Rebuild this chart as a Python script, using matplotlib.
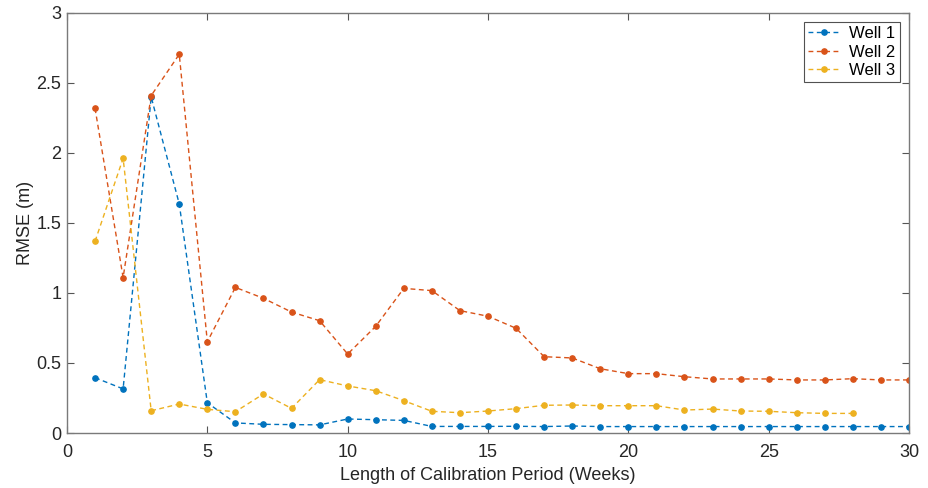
import matplotlib
matplotlib.use("Agg")
import matplotlib.pyplot as plt

weeks = list(range(1, 31))
well1 = [0.395, 0.315, 2.40, 1.636, 0.216, 0.072, 0.062, 0.060, 0.058, 0.100,
         0.095, 0.090, 0.047, 0.047, 0.047, 0.048, 0.046, 0.050, 0.046, 0.046,
         0.046, 0.046, 0.046, 0.046, 0.046, 0.046, 0.046, 0.046, 0.046, 0.046]
well2 = [2.319, 1.11, 2.41, 2.705, 0.652, 1.04, 0.962, 0.864, 0.802, 0.564,
         0.762, 1.033, 1.017, 0.874, 0.834, 0.748, 0.545, 0.536, 0.459, 0.424,
         0.424, 0.402, 0.386, 0.386, 0.386, 0.379, 0.379, 0.388, 0.379, 0.379]
weeks3 = list(range(1, 29))
well3 = [1.369, 1.962, 0.159, 0.207, 0.169, 0.152, 0.279, 0.176, 0.381, 0.336,
         0.302, 0.231, 0.155, 0.145, 0.157, 0.174, 0.198, 0.200, 0.195, 0.195,
         0.195, 0.164, 0.171, 0.157, 0.155, 0.145, 0.140, 0.140]

series = [("Well 1", weeks, well1, "#0072BD"),
          ("Well 2", weeks, well2, "#D95319"),
          ("Well 3", weeks3, well3, "#EDB120")]

plt.rcParams['font.family'] = ['Liberation Sans', 'DejaVu Sans']

fig = plt.figure(figsize=(9.29, 4.88), dpi=100)
ax = fig.add_axes([0.0721, 0.1127, 0.9064, 0.8607])

for name, x, y, c in series:
    ax.plot(x, y, linestyle=(0, (3.5, 2.5)), color=c, linewidth=1.0,
            marker='o', markersize=3.8, markerfacecolor=c, markeredgecolor=c,
            label=name)

ax.set_xlim(0, 30)
ax.set_ylim(0, 3)
ax.set_xticks([0, 5, 10, 15, 20, 25, 30])
ax.set_yticks([0, 0.5, 1, 1.5, 2, 2.5, 3])
ax.set_yticklabels(["0", "0.5", "1", "1.5", "2", "2.5", "3"])
ax.set_xlabel("Length of Calibration Period (Weeks)", fontsize=13, color='#262626', labelpad=4)
ax.set_ylabel("RMSE (m)", fontsize=13, color='#262626', labelpad=2)

ax.tick_params(direction='in', length=5, width=0.8, colors='#555555',
               labelcolor='#262626', labelsize=13, top=True, right=True)
ax.tick_params(axis='x', pad=8)
ax.tick_params(axis='y', pad=4)
for s in ax.spines.values():
    s.set_color('#7a7a7a')
    s.set_linewidth(1.0)

leg = ax.legend(loc='upper right', fontsize=12, frameon=True, fancybox=False,
                edgecolor='#262626', handlelength=2.0, handletextpad=0.5,
                borderpad=0.25, labelspacing=0.2, borderaxespad=0.55)
leg.get_frame().set_linewidth(0.8)

fig.savefig("out.png", dpi=100)
